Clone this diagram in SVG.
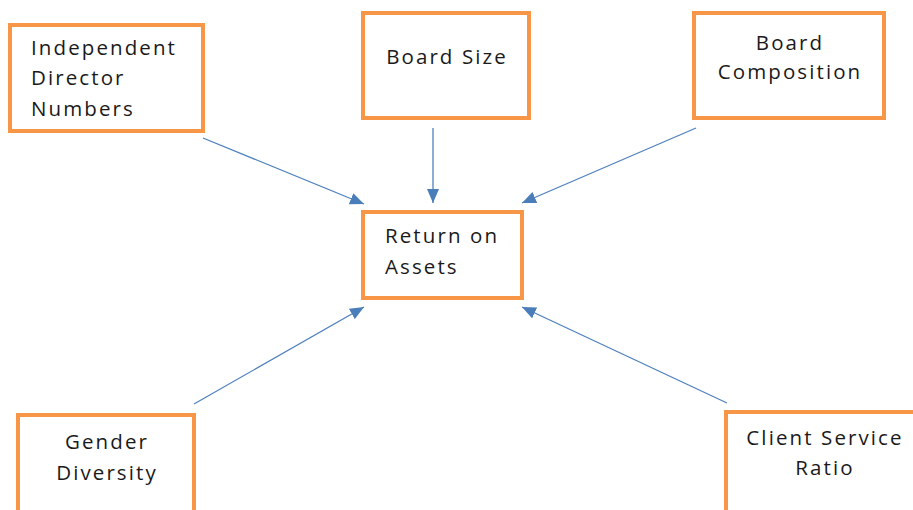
<svg xmlns="http://www.w3.org/2000/svg" width="913" height="510" viewBox="0 0 913 510">
<defs>
<style>
.box{fill:#ffffff;stroke:#F79646;stroke-width:4}
.lbl{font-family:"Open Sans","Noto Sans",sans-serif;font-size:20.5px;letter-spacing:2.1px;fill:#1a1a1a}
.c{text-anchor:middle}
.edge{stroke:#4F81BD;stroke-width:1.3;fill:none;marker-end:url(#ah)}
</style>
<marker id="ah" markerUnits="userSpaceOnUse" markerWidth="14" markerHeight="12" viewBox="0 0 14 12" refX="14" refY="6" orient="auto">
<path d="M0,0 L14,6 L0,12 Z" fill="#4A7EBB"/>
</marker>
</defs>
<rect width="913" height="510" fill="#ffffff"/>
<g id="connectors">
<line class="edge" x1="203" y1="138" x2="364" y2="204"/>
<line class="edge" x1="433" y1="128" x2="433" y2="203"/>
<line class="edge" x1="696" y1="128" x2="522" y2="203"/>
<line class="edge" x1="194" y1="404" x2="364" y2="307"/>
<line class="edge" x1="727" y1="403" x2="522" y2="307"/>
</g>
<g id="node-independent">
<rect class="box" x="10" y="25" width="193" height="106"/>
<text class="lbl" x="31" y="55">Independent</text>
<text class="lbl" x="31" y="85">Director</text>
<text class="lbl" x="31" y="116">Numbers</text>
</g>
<g id="node-boardsize">
<rect class="box" x="363" y="13" width="166" height="105"/>
<text class="lbl c" x="447" y="64">Board Size</text>
</g>
<g id="node-composition">
<rect class="box" x="694" y="13" width="190" height="105"/>
<text class="lbl c" x="790" y="50">Board</text>
<text class="lbl c" x="790" y="79">Composition</text>
</g>
<g id="node-roa">
<rect class="box" x="363" y="212" width="159" height="86"/>
<text class="lbl" x="385" y="243">Return on</text>
<text class="lbl" x="385" y="274">Assets</text>
</g>
<g id="node-gender">
<rect class="box" x="18" y="415" width="176" height="110"/>
<text class="lbl c" x="107" y="449">Gender</text>
<text class="lbl c" x="107" y="480">Diversity</text>
</g>
<g id="node-client">
<rect class="box" x="726" y="412" width="200" height="110"/>
<text class="lbl c" x="825" y="445">Client Service</text>
<text class="lbl c" x="825" y="475">Ratio</text>
</g>
</svg>
